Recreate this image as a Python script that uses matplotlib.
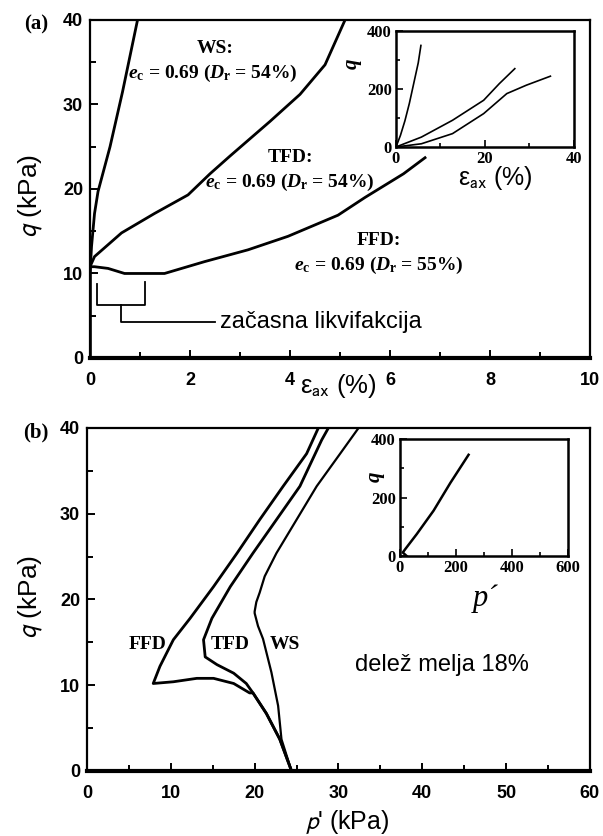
import numpy as np
import matplotlib
matplotlib.use("Agg")
import matplotlib.pyplot as plt
from matplotlib.ticker import MultipleLocator

plt.rcParams['font.family'] = ['Liberation Sans', 'DejaVu Sans']
plt.rcParams['mathtext.fontset'] = 'custom'
plt.rcParams['mathtext.rm'] = 'Liberation Serif:bold'
plt.rcParams['mathtext.it'] = 'Liberation Serif:italic:bold'
plt.rcParams['mathtext.bf'] = 'Liberation Serif:bold'

# panel (a): q vs axial strain
ws_eps = [0, 0, 0.03, 0.09, 0.16, 0.4, 0.65, 0.95]
ws_q = [0, 10, 13.2, 17.1, 19.7, 25.0, 31.5, 40]
tfd_eps = [0, 0, 0.09, 0.63, 1.29, 1.96, 2.4, 2.8, 3.6, 4.2, 4.7, 5.1]
tfd_q = [0, 10.8, 12.0, 14.8, 17.1, 19.3, 21.8, 23.9, 28.0, 31.2, 34.7, 40]
ffd_eps = [0, 0, 0.09, 0.36, 0.69, 1.49, 2.29, 3.16, 3.96, 4.96, 5.5, 6.27, 6.7]
ffd_q = [0, 10.8, 10.8, 10.6, 10.0, 10.0, 11.4, 12.8, 14.4, 16.9, 19, 21.8, 23.7]

# inset (a)
ws_eps_big = [0, 1, 2, 3, 4, 5, 5.6]
ws_q_big = [0, 40, 90, 150, 220, 290, 350]
tfd_eps_big = [0, 5.7, 12.7, 19.7, 23.2, 26.7]
tfd_q_big = [0, 34, 92, 161, 218, 270]
ffd_eps_big = [0, 5.7, 12.7, 19.7, 24.9, 29.3, 34.7]
ffd_q_big = [0, 11, 46, 115, 184, 213, 244]

# panel (b): q vs p'
ffd_p = [24.4, 23.0, 21.4, 19.8, 19.4, 17.5, 15.1, 13.1, 10.3, 7.9, 8.7, 10.3, 12.3, 15.1, 17.9, 20.6, 23.4, 26.2, 27.6]
ffd_pq = [0, 3.7, 6.7, 9.1, 9.1, 10.2, 10.8, 10.8, 10.4, 10.2, 12.2, 15.3, 17.8, 21.5, 25.4, 29.3, 33.2, 37.0, 40]
tfd_p = [24.4, 23.0, 21.4, 19.8, 19.0, 17.5, 15.5, 14.1, 13.9, 14.9, 17.1, 19.8, 22.6, 25.4, 28.0, 28.8]
tfd_pq = [0, 3.7, 6.7, 9.1, 10.2, 11.4, 12.4, 13.3, 15.3, 17.8, 21.5, 25.4, 29.3, 33.2, 38.6, 40]
ws_p = [24.4, 23.2, 22.8, 22.0, 21.0, 20.4, 20.0, 20.0, 20.2, 20.6, 21.2, 22.6, 25.0, 27.4, 30.2, 32.4]
ws_pq = [0, 3.7, 7.6, 11.5, 15.4, 16.9, 18.4, 18.6, 19.7, 20.8, 22.7, 25.4, 29.3, 33.2, 37.0, 40]

# inset (b)
p_big = [24, 10, 20, 60, 120, 180, 245]
q_big = [0, 12, 25, 75, 155, 250, 346]

# "zacasna likvifakcija" bracket
bracket_x = [0.14, 0.14, 1.1, 1.1]
bracket_y = [8.8, 6.3, 6.3, 9.0]
stem_x = [0.62, 0.62, 2.5]
stem_y = [6.3, 4.3, 4.3]

fig = plt.figure(figsize=(6.03, 8.36), dpi=100)


def style_main(ax):
    for s in ax.spines.values():
        s.set_linewidth(1.6)
    ax.spines['bottom'].set_linewidth(3.0)
    ax.tick_params(which='both', direction='in', top=False, right=False, width=1.4)
    ax.tick_params(which='major', length=6, labelsize=13)
    ax.tick_params(which='minor', length=4)
    ax.tick_params(axis='x', pad=10)
    ax.tick_params(axis='y', pad=5)
    plt.setp(ax.get_xticklabels() + ax.get_yticklabels(), fontweight='bold',
             family='Liberation Sans')


def style_inset(ax):
    for s in ax.spines.values():
        s.set_linewidth(1.8)
    ax.tick_params(which='both', direction='in', top=False, right=False, width=1.2)
    ax.tick_params(which='major', length=5, pad=3, labelsize=12)
    ax.tick_params(which='minor', length=3)
    plt.setp(ax.get_xticklabels() + ax.get_yticklabels(), fontweight='bold',
             family='Liberation Serif')


# ---------- panel (a)
ax1 = fig.add_axes([0.1493, 0.5718, 0.8292, 0.4043])
ax1.plot(ws_eps, ws_q, color='black', lw=2.0)
ax1.plot(tfd_eps, tfd_q, color='black', lw=2.0)
ax1.plot(ffd_eps, ffd_q, color='black', lw=2.0)
ax1.plot(bracket_x, bracket_y, color='black', lw=1.3)
ax1.plot(stem_x, stem_y, color='black', lw=1.3)
ax1.set_xlim(0, 10)
ax1.set_ylim(0, 40)
ax1.set_xticks([0, 2, 4, 6, 8, 10])
ax1.set_yticks([0, 10, 20, 30, 40])
ax1.xaxis.set_minor_locator(MultipleLocator(1))
ax1.yaxis.set_minor_locator(MultipleLocator(5))
style_main(ax1)
ax1.text(-0.118, 0.48, "$q$ (kPa)", transform=ax1.transAxes, rotation=90,
         ha='center', va='center', fontsize=19, math_fontfamily='stixsans')
ax1.text(0.496, -0.083, r"ε$_{\mathrm{ax}}$ (%)", transform=ax1.transAxes,
         ha='center', va='center', fontsize=18.5, math_fontfamily='stixsans')
ax1.text(2.6, 4.3, "začasna likvifakcija", ha='left', va='center', fontsize=17)

ann = dict(family='Liberation Serif', weight='bold', fontsize=14, ha='center', va='center')
ax1.text(2.5, 36.6, "WS:", **ann)
ax1.text(2.46, 33.7, r"$e_\mathrm{c}$ = 0.69 ($D_\mathrm{r}$ = 54%)", **ann)
ax1.text(4.0, 23.7, "TFD:", **ann)
ax1.text(4.0, 20.8, r"$e_\mathrm{c}$ = 0.69 ($D_\mathrm{r}$ = 54%)", **ann)
ax1.text(5.77, 13.9, "FFD:", **ann)
ax1.text(5.77, 11.0, r"$e_\mathrm{c}$ = 0.69 ($D_\mathrm{r}$ = 55%)", **ann)
fig.text(36 / 603, 1 - 24 / 836, "(a)", family='Liberation Serif', weight='bold',
         fontsize=15, ha='center', va='center')

ins1 = fig.add_axes([0.6567, 0.8242, 0.2952, 0.1388])
ins1.plot(ws_eps_big, ws_q_big, color='black', lw=1.2)
ins1.plot(tfd_eps_big, tfd_q_big, color='black', lw=1.2)
ins1.plot(ffd_eps_big, ffd_q_big, color='black', lw=1.2)
ins1.set_xlim(0, 40)
ins1.set_ylim(0, 400)
ins1.set_xticks([0, 20, 40])
ins1.set_yticks([0, 200, 400])
ins1.xaxis.set_minor_locator(MultipleLocator(10))
ins1.yaxis.set_minor_locator(MultipleLocator(100))
style_inset(ins1)
ins1.text(-0.25, 0.72, "q", transform=ins1.transAxes, rotation=90, ha='center', va='center',
          family='Liberation Serif', weight='bold', style='italic', fontsize=15)
ins1.text(0.56, -0.27, r"ε$_{\mathrm{ax}}$ (%)", transform=ins1.transAxes,
          ha='center', va='center', fontsize=18, math_fontfamily='stixsans')

# ---------- panel (b)
ax2 = fig.add_axes([0.1443, 0.0778, 0.834, 0.4103])
ax2.plot(ffd_p, ffd_pq, color='black', lw=2.0)
ax2.plot(tfd_p, tfd_pq, color='black', lw=2.0)
ax2.plot(ws_p, ws_pq, color='black', lw=1.6)
ax2.set_xlim(0, 60)
ax2.set_ylim(0, 40)
ax2.set_xticks([0, 10, 20, 30, 40, 50, 60])
ax2.set_yticks([0, 10, 20, 30, 40])
ax2.xaxis.set_minor_locator(MultipleLocator(5))
ax2.yaxis.set_minor_locator(MultipleLocator(5))
style_main(ax2)
ax2.text(-0.111, 0.507, "$q$ (kPa)", transform=ax2.transAxes, rotation=90,
         ha='center', va='center', fontsize=19, math_fontfamily='stixsans')
ax2.text(0.517, -0.150, "$p$' (kPa)", transform=ax2.transAxes,
         ha='center', va='center', fontsize=18, math_fontfamily='stixsans')
ann2 = dict(family='Liberation Serif', weight='bold', fontsize=14, ha='center', va='center')
ax2.text(7.2, 14.8, "FFD", **ann2)
ax2.text(17.1, 14.8, "TFD", **ann2)
ax2.text(23.6, 14.8, "WS", **ann2)
ax2.text(42.3, 12.3, "delež melja 18%", ha='center', va='center', fontsize=17)
fig.text(36 / 603, 1 - 432 / 836, "(b)", family='Liberation Serif', weight='bold',
         fontsize=15, ha='center', va='center')

ins2 = fig.add_axes([0.6633, 0.3349, 0.2786, 0.14])
ins2.plot(p_big, q_big, color='black', lw=1.8)
ins2.set_xlim(0, 600)
ins2.set_ylim(0, 400)
ins2.set_xticks([0, 200, 400, 600])
ins2.set_yticks([0, 200, 400])
ins2.xaxis.set_minor_locator(MultipleLocator(100))
ins2.yaxis.set_minor_locator(MultipleLocator(100))
style_inset(ins2)
ins2.text(-0.15, 0.675, "q", transform=ins2.transAxes, rotation=90, ha='center', va='center',
          family='Liberation Serif', weight='bold', style='italic', fontsize=15)
ins2.text(0.51, -0.36, "p´", transform=ins2.transAxes, ha='center', va='center',
          family='Liberation Serif', style='italic', fontsize=22)

fig.savefig("out.png", dpi=100)
